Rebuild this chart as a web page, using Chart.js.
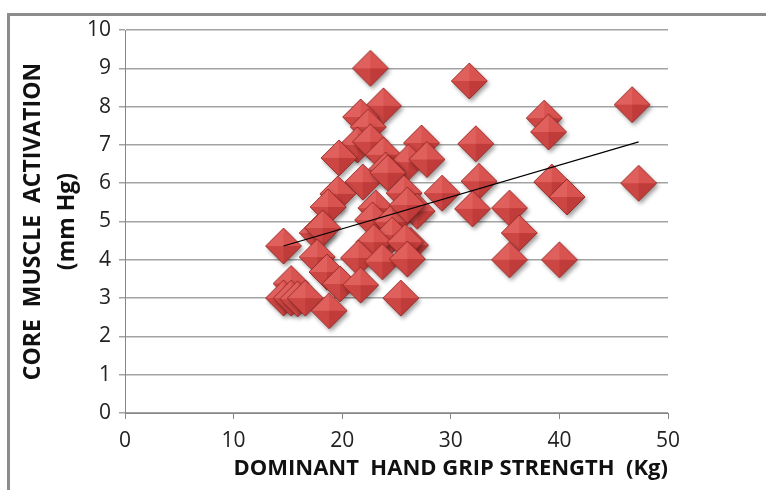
<!DOCTYPE html>
<html>
<head>
<meta charset="utf-8">
<script src="https://cdn.jsdelivr.net/npm/chart.js@4"></script>
<style>
  html, body { margin: 0; padding: 0; background: #fff; }
  #wrap { position: relative; width: 766px; height: 490px; overflow: hidden; }
  #frame { position: absolute; left: 7px; top: 13px; width: 800px; height: 520px;
           border-left: 3px solid #8c8c8c; border-top: 3px solid #8c8c8c; }
  canvas { position: absolute; left: 0; top: 0; }
</style>
</head>
<body>
<div id="wrap">
  <div id="frame"></div>
  <canvas id="chartGrip" width="766" height="490"></canvas>
</div>
<script>
//データ（握力 kg / 体幹筋活動 mmHg）
const gripKg = [22.6, 31.7, 23.8, 46.7, 21.7, 38.6, 22.4, 39.0, 21.4, 22.6,
                27.3, 32.3, 19.7, 23.8, 26.1, 27.8, 24.0, 21.9, 24.2, 32.6,
                39.3, 47.3, 19.6, 25.7, 29.2, 40.7, 18.7, 26.9, 23.1, 32.0,
                35.4, 22.8, 24.6, 26.0, 14.6, 17.7, 18.2, 24.6, 36.3, 26.3,
                22.9, 25.8, 17.7, 21.5, 23.7, 26.0, 35.4, 40.0, 18.6, 19.8,
                21.7, 15.3, 14.6, 15.3, 15.9, 16.6, 25.4, 18.8];
const coreMmHg = [9.0, 8.67, 8.02, 8.05, 7.73, 7.70, 7.47, 7.34, 7.0, 7.08,
                  7.05, 7.03, 6.66, 6.74, 6.55, 6.62, 6.34, 6.03, 6.27, 6.05,
                  6.03, 6.0, 5.72, 5.74, 5.74, 5.64, 5.38, 5.27, 5.35, 5.33,
                  5.35, 5.04, 4.99, 5.43, 4.36, 4.7, 4.83, 4.65, 4.70, 4.38,
                  4.46, 4.46, 4.07, 4.05, 3.95, 4.02, 4.0, 4.0, 3.68, 3.37,
                  3.34, 3.38, 3.0, 3.0, 2.98, 3.0, 3.0, 2.67];
//近似直線
const trendSlope = 0.0832;
const trendIntercept = 3.145;
//目盛り
const xTicks = [0, 10, 20, 30, 40, 50];
const yTicks = [0, 1, 2, 3, 4, 5, 6, 7, 8, 9, 10];

const FONT = '"Open Sans", "DejaVu Sans", sans-serif';

//立体ひし形マーカー
function makeDiamond(r){
    const size = 2 * r + 12;
    const cv = document.createElement('canvas');
    cv.width = size; cv.height = size;
    const g = cv.getContext('2d');
    const c = size / 2;
    const T = [c, c - r], R = [c + r, c], B = [c, c + r], L = [c - r, c], C = [c, c];
    const tri = (a, b, col) => {
        g.beginPath(); g.moveTo(a[0], a[1]); g.lineTo(b[0], b[1]); g.lineTo(C[0], C[1]);
        g.closePath(); g.fillStyle = col; g.fill();
    };
    //影
    g.save();
    g.shadowColor = 'rgba(0,0,0,0.38)';
    g.shadowBlur = 4; g.shadowOffsetX = 2; g.shadowOffsetY = 3;
    g.beginPath(); g.moveTo(T[0], T[1]); g.lineTo(R[0], R[1]); g.lineTo(B[0], B[1]); g.lineTo(L[0], L[1]);
    g.closePath(); g.fillStyle = '#c94341'; g.fill();
    g.restore();
    tri(L, T, '#e0605d');
    tri(T, R, '#d95350');
    tri(R, B, '#c03c3a');
    tri(B, L, '#cc4643');
    g.beginPath(); g.moveTo(T[0], T[1]); g.lineTo(R[0], R[1]); g.lineTo(B[0], B[1]); g.lineTo(L[0], L[1]);
    g.closePath(); g.strokeStyle = 'rgba(140,35,33,0.8)'; g.lineWidth = 1; g.stroke();
    return cv;
}

window.addEventListener('DOMContentLoaded', () => {
    const points = gripKg.map((x, i) => ({x: x, y: coreMmHg[i]}));
    const xMin = Math.min(...gripKg), xMax = Math.max(...gripKg);
    const trend = [xMin, xMax].map(x => ({x: x, y: trendIntercept + trendSlope * x}));
    const marker = makeDiamond(18);

    new Chart(document.getElementById('chartGrip').getContext('2d'), {
        type: 'scatter',
        data: {
            datasets: [{
                data: points,
                pointStyle: marker,
                pointRadius: 18,
                order: 1
            }, {
                type: 'line',
                data: trend,
                borderColor: '#000',
                borderWidth: 1.2,
                pointRadius: 0,
                fill: false,
                order: 0
            }]
        },
        options: {
            responsive: false,
            animation: false,
            events: [],
            layout: { padding: { left: 8, right: 98, top: 30, bottom: 0 } },
            plugins: { legend: { display: false }, tooltip: { enabled: false } },
            scales: {
                x: {
                    type: 'linear', min: 0, max: 50,
                    afterBuildTicks: s => { s.ticks = xTicks.map(v => ({value: v})); },
                    afterFit: s => { s.height = 77; },
                    grid: { drawOnChartArea: false, drawTicks: true, tickLength: 6, color: '#868686', lineWidth: 1 },
                    border: { color: '#868686', width: 1 },
                    ticks: { color: '#222', padding: 9, font: { family: FONT, size: 21 } },
                    title: {
                        display: true, align: 'end',
                        text: 'DOMINANT  HAND GRIP STRENGTH  (Kg)',
                        color: '#111', padding: { top: 0, bottom: 8 },
                        font: { family: FONT, size: 22, weight: 'bold', lineHeight: 1.2 }
                    }
                },
                y: {
                    min: 0, max: 10,
                    afterBuildTicks: s => { s.ticks = yTicks.map(v => ({value: v})); },
                    afterFit: s => { s.width = 117; },
                    grid: { drawTicks: true, tickLength: 6, color: '#a3a3a3', lineWidth: 1.5 },
                    border: { color: '#868686', width: 1 },
                    ticks: { color: '#222', padding: 8, font: { family: FONT, size: 21 } },
                    title: {
                        display: true,
                        text: ['CORE  MUSCLE  ACTIVATION', '(mm Hg)'],
                        color: '#111', padding: { top: 8, bottom: 0 },
                        font: { family: FONT, size: 23, weight: 'bold', lineHeight: 1.5 }
                    }
                }
            }
        }
    });
});
</script>
</body>
</html>
